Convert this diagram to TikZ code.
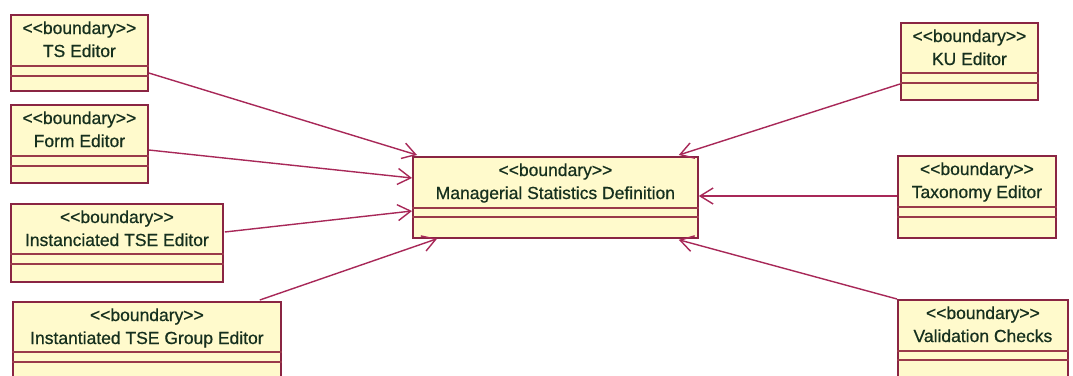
\documentclass[tikz,border=0pt]{standalone}
\usepackage{fontspec}
\setmainfont{Liberation Sans}
\newfontfamily\umlfont{Liberation Sans}[FakeBold=0.7]
\usetikzlibrary{arrows.meta,calc}
\definecolor{boxfill}{HTML}{FFFACC}
\definecolor{boxline}{HTML}{8A2543}
\definecolor{sepline}{HTML}{9A3A4A}
\definecolor{linkcol}{HTML}{A82858}
\definecolor{txtcol}{HTML}{16301E}
\tikzset{
  boundary/.style={draw=boxline, line width=1.8pt, fill=boxfill, inner sep=0pt, anchor=north west},
  stereo/.style={font=\umlfont\fontsize{17.5}{20}\selectfont, text=txtcol, anchor=base, inner sep=0pt},
  sep/.style={draw=sepline, line width=1.3pt},
  link/.style={draw=linkcol, line width=1.4pt, -{Straight Barb[length=13pt,width=16pt,line width=1.4pt]}},
}
% a boundary class: name, top-left corner, width, height, title, two compartment offsets
\newcommand\classbox[7]{%
  \node[boundary, minimum width=#3pt, minimum height=#4pt] (#1) at #2 {};
  \node[stereo] (#1-s) at ($(#1.north)+(0,20)$) {<{}<boundary>{}>};
  \node[stereo] (#1-n) at ($(#1.north)+(0,43)$) {#5};
  \draw[sep] ($(#1.north west)+(0,#6)$) -- ($(#1.north east)+(0,#6)$);
  \draw[sep] ($(#1.north west)+(0,#7)$) -- ($(#1.north east)+(0,#7)$);
}
\begin{document}
\begin{tikzpicture}[x=1pt,y=-1pt]
\useasboundingbox[fill=white] (0,0) rectangle (1073,375);
\begin{scope}
\clip (0,0) rectangle (1073,375);
\classbox{ts}{(10,14)}{137}{76}{TS Editor}{52}{62}
\classbox{form}{(10,104)}{137}{78}{Form Editor}{52}{62}
\classbox{inst}{(10,203)}{212}{78}{Instanciated TSE Editor}{51}{61}
\classbox{grp}{(12,301)}{268}{82}{Instantiated TSE Group Editor}{51}{61}
\classbox{ku}{(900,22)}{137}{77}{KU Editor}{51}{61}
\classbox{tax}{(897,155)}{158}{82}{Taxonomy Editor}{52}{62}
\classbox{val}{(897,299)}{170}{84}{Validation Checks}{52}{61}
\classbox{msd}{(412,156)}{285}{81}{Managerial Statistics Definition}{52}{61}
\end{scope}
% dependencies onto the central boundary
\draw[link] ($(ts.north east)+(0,59)$) -- ($(msd.north west)+(5,-1)$);
\draw[link] ($(form.north east)+(0,46)$) -- ($(msd.north west)+(0,22)$);
\draw[link] ($(inst.north east)+(1,29)$) -- ($(msd.north west)+(0,55)$);
\draw[link] ($(grp.north east)+(-22,-1)$) -- ($(msd.south west)+(25,0)$);
\draw[link] ($(ku.north west)+(0,62)$) -- ($(msd.north east)+(-20,-1)$);
\draw[link] ($(tax.north west)+(0,41)$) -- ($(msd.north east)+(0,40)$);
\draw[link] (val.north west) -- ($(msd.south east)+(-20,1)$);
\end{tikzpicture}
\end{document}
